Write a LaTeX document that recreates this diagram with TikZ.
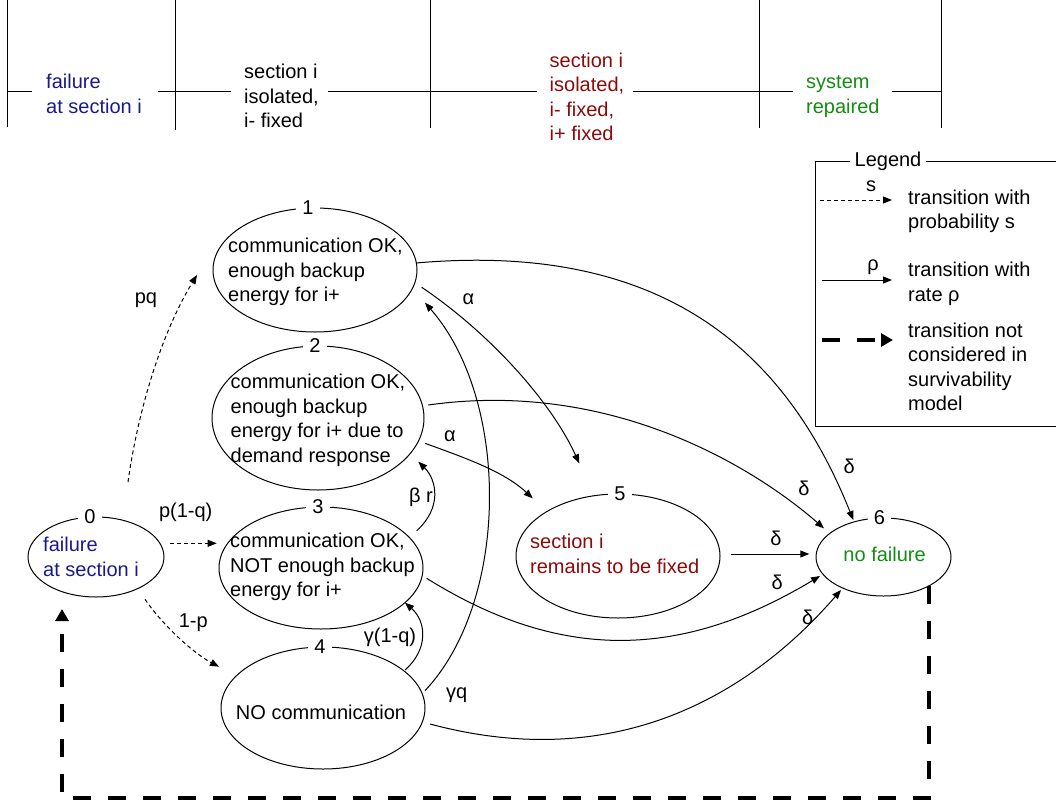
\documentclass[tikz,border=0pt]{standalone}
\usepackage{fontspec}
\setmainfont{Liberation Sans}
\usetikzlibrary{arrows.meta,shapes.geometric}
\definecolor{cblue}{RGB}{25,25,140}
\definecolor{cred}{RGB}{140,10,10}
\definecolor{cgreen}{RGB}{20,140,20}
\begin{document}
\begin{tikzpicture}[x=1pt,y=1pt,
  every node/.style={font=\fontsize{20}{24.5}\selectfont},
  st/.style={draw, ellipse, line width=1pt, inner sep=0pt},
  txt/.style={anchor=west, align=left, inner sep=0pt},
  num/.style={fill=white, inner xsep=6pt, inner ysep=0pt},
  lbl/.style={inner sep=0pt},
  thin line/.style={line width=1pt},
  tr/.style={line width=1pt, -{Triangle[length=9pt,width=7pt]}},
  pr/.style={tr, dash pattern=on 4pt off 3pt},
  nc/.style={line width=3.3pt, dash pattern=on 18pt off 17pt, -{Triangle[length=12pt,width=13pt]}},
]
\useasboundingbox (0,0) rectangle (1056,-803);

% ---------- timeline ----------
\draw[thin line] (7,0) -- (7,-127);
\draw[thin line] (175,0) -- (175,-130);
\draw[thin line] (430,0) -- (430,-128);
\draw[thin line] (759,0) -- (759,-128);
\draw[thin line] (941,0) -- (941,-128);
\draw[thin line] (7,-91) -- (32,-91);
\draw[thin line] (158,-91) -- (231,-91);
\draw[thin line] (328,-91) -- (537,-91);
\draw[thin line] (633,-91) -- (793,-91);
\draw[thin line] (892,-91) -- (941,-91);
\node[txt, text=cblue] (tl1) at (46,-94) {failure\\at section i};
\node[txt] (tl2) at (244,-96) {section i\\isolated,\\i- fixed};
\node[txt, text=cred] (tl3) at (549.5,-97) {section i\\isolated,\\i- fixed,\\i+ fixed};
\node[txt, text=cgreen] (tl4) at (806,-96.5) {system\\repaired};

% ---------- legend ----------
\draw[thin line] (815,-161) rectangle (1062,-426);
\node[fill=white, inner xsep=5pt, inner ysep=1pt] (leg) at (888,-161) {Legend};
\coordinate (la1) at (820,-200);
\coordinate (lb1) at (892,-200);
\draw[pr] (la1) -- (lb1);
\node[lbl] (ls) at (871,-186) {s};
\node[txt] (lt1) at (908,-211.5) {transition with\\probability s};
\coordinate (la2) at (822,-280);
\coordinate (lb2) at (892,-280);
\draw[tr] (la2) -- (lb2);
\node[lbl] (lr) at (873,-266.7) {ρ};
\node[txt] (lt2) at (908,-284) {transition with\\rate ρ};
\coordinate (la3) at (822,-340);
\coordinate (lb3) at (893,-340);
\draw[nc] (la3) -- (lb3);
\node[txt] (lt3) at (908,-367) {transition not\\considered in\\survivability\\model};

% ---------- states ----------
\node[st, minimum width=136pt, minimum height=80pt] (n0) at (96,-557) {};
\node[st, minimum width=204pt, minimum height=124pt] (n1) at (315,-270) {};
\node[st, minimum width=212pt, minimum height=144pt] (n2) at (318,-418) {};
\node[st, minimum width=204pt, minimum height=122pt] (n3) at (321,-568) {};
\node[st, minimum width=204pt, minimum height=122pt] (n4) at (323,-708) {};
\node[st, minimum width=204pt, minimum height=124pt] (n5) at (618,-556) {};
\node[st, minimum width=135pt, minimum height=78pt] (n6) at (883.5,-557) {};

\node[num] (k0) at ([xshift=-6pt]n0.north) {0};
\node[num] (k1) at ([xshift=-7pt]n1.north) {1};
\node[num] (k2) at ([xshift=-3pt]n2.north) {2};
\node[num] (k3) at ([xshift=-3pt]n3.north) {3};
\node[num] (k4) at ([xshift=-3pt]n4.north) {4};
\node[num] (k5) at ([xshift=2pt]n5.north) {5};
\node[num] (k6) at ([xshift=-4pt]n6.north) {6};

\node[txt, text=cblue] (t0) at (43,-557) {failure\\at section i};
\node[txt] (t1) at (228,-272) {communication OK,\\enough backup\\energy for i+};
\node[txt] (t2) at (230.5,-420.5) {communication OK,\\enough backup\\energy for i+ due to\\demand response};
\node[txt] (t3) at (230,-567) {communication OK,\\NOT enough backup\\energy for i+};
\node[lbl] (t4) at (321,-712) {NO communication};
\node[txt, text=cred] (t5) at (530,-554) {section i\\remains to be fixed};
\node[lbl, text=cgreen] (t6) at (884.6,-554) {no failure};

% ---------- transitions ----------
\draw[pr] ([shift={(32,75)}]n0.center) .. controls (137.7,-412.7) and (160.5,-334.7) .. ([shift={(-118,-5)}]n1.center)
  node[lbl] (lpq) at (146,-300) {pq};
\draw[pr] ([shift={(74,13.7)}]n0.center) -- ([shift={(-104.3,24.7)}]n3.center)
  node[lbl] (lpq1) at (185.7,-512.7) {p(1-q)};
\draw[pr] ([shift={(49,-42.3)}]n0.center) .. controls (161.8,-624) and (192.5,-652.7) .. ([shift={(-104,41.3)}]n4.center)
  node[lbl] (l1p) at (193.3,-622.7) {1-p};

\draw[tr] ([shift={(106.7,-17.3)}]n1.center) .. controls (488,-332) and (550,-399.6) .. ([shift={(-38.7,92.7)}]n5.center)
  node[lbl] (la15) at (468.3,-299.3) {α};
\draw[tr] ([shift={(107,-25.3)}]n2.center) .. controls (462.6,-457) and (503.5,-471) .. ([shift={(-85.3,57.7)}]n5.center)
  node[lbl] (la25) at (450,-436.7) {α};
\draw[tr] ([shift={(95.7,37.3)}]n3.center) .. controls (442,-508) and (437,-480) .. ([shift={(100.3,-43.7)}]n2.center)
  node[lbl] (lbr) at (421,-497) {β r};
\draw[tr] ([shift={(82,38)}]n4.center) .. controls (428,-650) and (427,-622) .. ([shift={(84,-34.7)}]n3.center)
  node[lbl] (lg1q) at (390,-637) {γ(1-q)};
\draw[tr] ([shift={(102,17.3)}]n4.center) .. controls (510,-600) and (510,-400) .. ([shift={(110,-32.7)}]n1.center)
  node[lbl] (lgq) at (456.7,-695) {γq};

\draw[tr] ([shift={(101,7)}]n1.center) .. controls (665,-241) and (786.4,-352.6) .. ([shift={(-30.2,37)}]n6.center)
  node[lbl] (ld1) at (849.3,-466) {δ};
\draw[tr] ([shift={(110.3,13)}]n2.center) .. controls (606.5,-379.8) and (748.5,-462.8) .. ([shift={(-59.5,28.7)}]n6.center)
  node[lbl] (ld2) at (804,-488.3) {δ};
\draw[tr] ([shift={(112.7,2)}]n5.center) -- ([shift={(-74.2,3)}]n6.center)
  node[lbl] (ld5) at (776,-538.3) {δ};
\draw[tr] ([shift={(105.7,-10.3)}]n3.center) .. controls (562.4,-663.1) and (682.9,-658.4) .. ([shift={(-63.5,-19)}]n6.center)
  node[lbl] (ld3) at (777.3,-582.7) {δ};
\draw[tr] ([shift={(107,-16)}]n4.center) .. controls (623.2,-775.8) and (755.7,-688.2) .. ([shift={(-42.5,-33)}]n6.center)
  node[lbl] (ld4) at (807.7,-617.3) {δ};

\draw[nc] ([shift={(45.5,-29)}]n6.center) -- ++(0,-212) -| ([shift={(-34,-52)}]n0.center);
\end{tikzpicture}
\end{document}
